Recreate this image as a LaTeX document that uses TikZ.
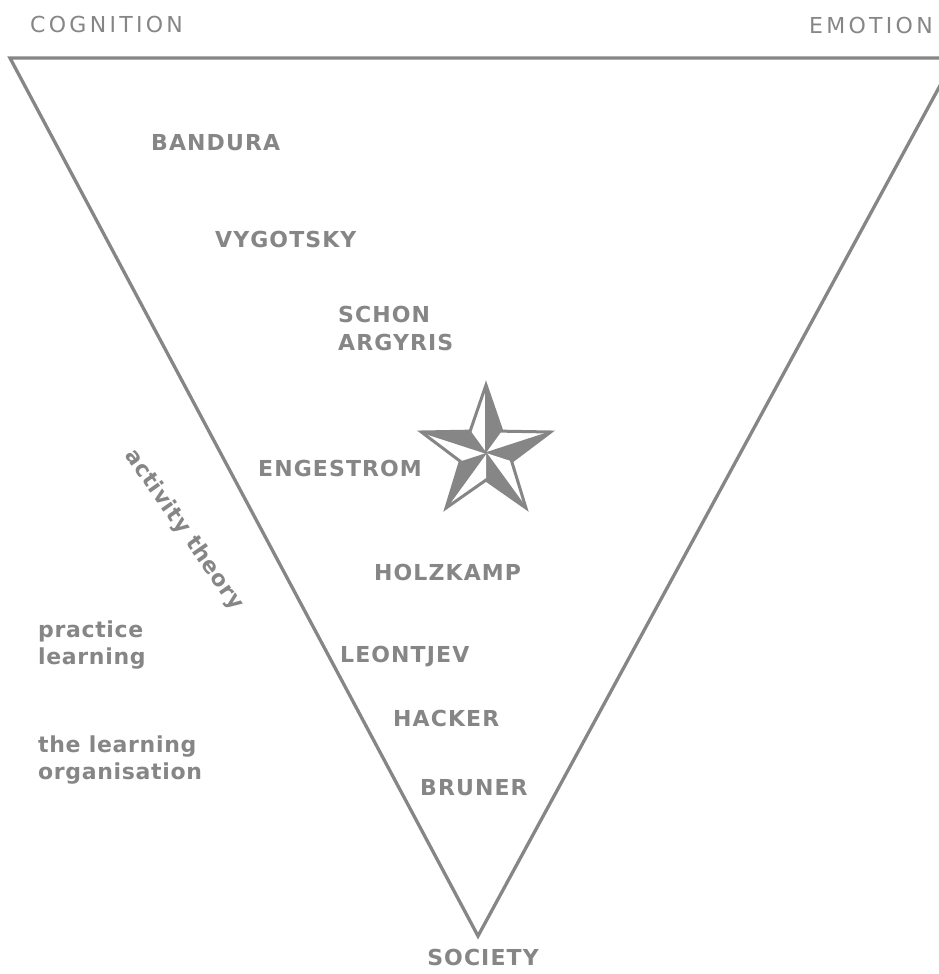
\documentclass[tikz,border=0pt]{standalone}
\usepackage{fontspec}
\setmainfont{DejaVu Sans}
\newfontfamily\capreg[LetterSpace=15]{DejaVu Sans}
\newfontfamily\capbold[LetterSpace=5]{DejaVu Sans Bold}
\newfontfamily\lowbold[LetterSpace=3]{DejaVu Sans Bold}
\definecolor{tg}{RGB}{134,134,134}
\begin{document}
\begin{tikzpicture}[x=1pt,y=-1pt,
  axislbl/.style={text=tg,font=\capreg\fontsize{22}{26}\selectfont,inner sep=0pt},
  namelbl/.style={text=tg,font=\capbold\fontsize{22}{28}\selectfont,inner sep=0pt,anchor=west,align=left},
  sidelbl/.style={text=tg,font=\lowbold\fontsize{22}{27}\selectfont,inner sep=0pt,anchor=west,align=left},
  edge/.style={draw=tg,line width=3.3pt,line join=miter}]
\useasboundingbox (0,0) rectangle (939,974);
\fill[white] (0,0) rectangle (939,974);
\clip (0,0) rectangle (939,974);
% triangle
\coordinate (tl) at (10,58);
\coordinate (tr) at (955,58);
\coordinate (ap) at (478,936);
\draw[edge] (tl) -- (tr) -- (ap) -- cycle;
% axis labels
\node[axislbl,anchor=west] (cog) at (30,24) {COGNITION};
\node[axislbl,anchor=east] (emo) at (933,25) {EMOTION};
\node[text=tg,font=\capbold\fontsize{22}{26}\selectfont,inner sep=0pt] (soc) at (483,957) {SOCIETY};
% names
\node[namelbl] (ban) at (151,143) {BANDURA};
\node[namelbl] (vyg) at (215,239) {VYGOTSKY};
\node[namelbl] (sch) at (338,328) {SCHON\\ARGYRIS};
\node[namelbl] (eng) at (258,468) {ENGESTROM};
\node[namelbl] (hol) at (374,572) {HOLZKAMP};
\node[namelbl] (leo) at (340,657) {LEONTJEV};
\node[namelbl] (hac) at (393,718) {HACKER};
\node[namelbl] (bru) at (420,788) {BRUNER};
% side labels
\node[sidelbl] (pra) at (38,645) {practice\\learning};
\node[sidelbl] (org) at (38,760) {the learning\\organisation};
\node[text=tg,font=\lowbold\fontsize{22}{24}\selectfont,inner sep=0pt,rotate=-55] (act) at (184,530) {activity theory};
% star
\begin{scope}[shift={(486,453)}]
  \foreach \i in {0,...,4}{
    \pgfmathsetmacro\a{-90+72*\i}
    \pgfmathsetmacro\b{\a-36}
    \pgfmathsetmacro\c{\a+36}
    \fill[white] (0,0) -- (\a:68) -- (\b:27) -- cycle;
    \fill[tg] (0,0) -- (\a:68) -- (\c:27) -- cycle;
    \draw[tg,line width=1.5pt] (0,0) -- (\a:68);
    \draw[tg,line width=1pt] (0,0) -- (\c:27);
  }
  \draw[tg,line width=3pt,line join=miter] (-90:68) -- (-54:27) -- (-18:68) -- (18:27) -- (54:68) -- (90:27) -- (126:68) -- (162:27) -- (198:68) -- (234:27) -- cycle;
\end{scope}
\end{tikzpicture}
\end{document}
